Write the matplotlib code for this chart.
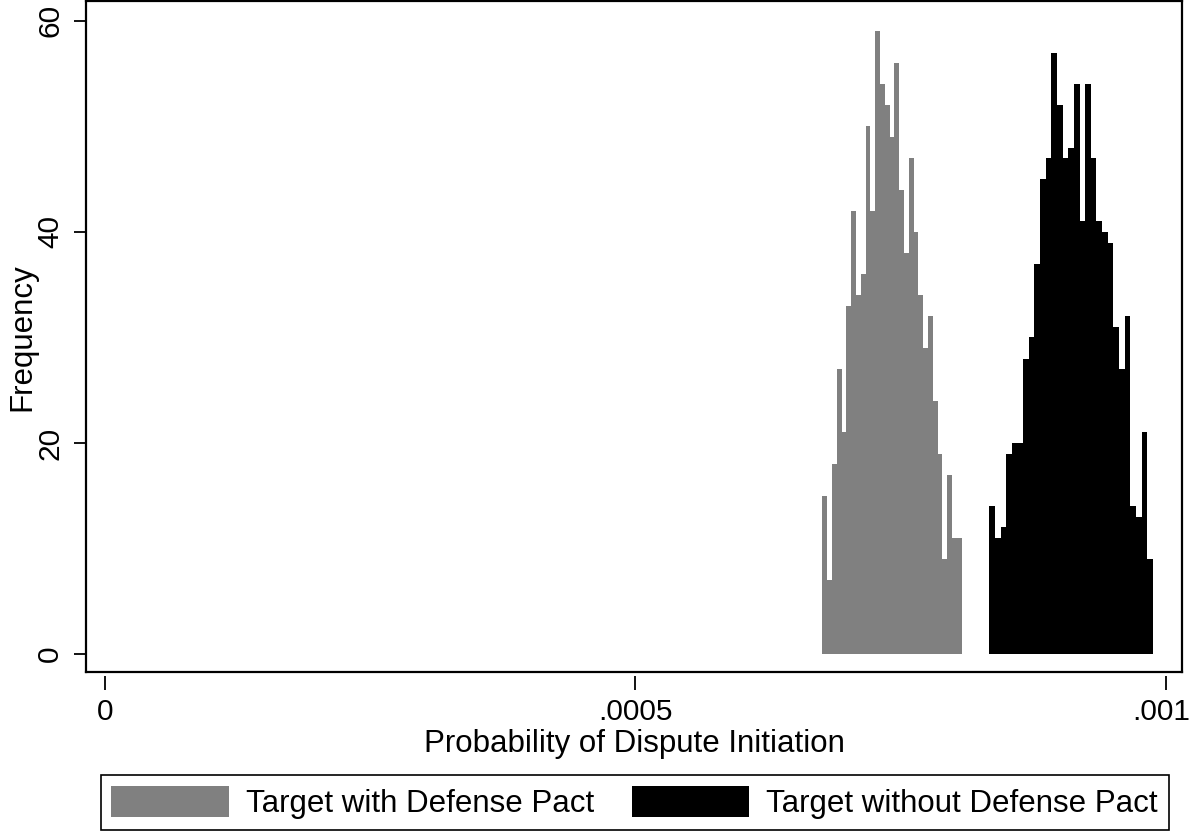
import numpy as np
import matplotlib
matplotlib.use("Agg")
import matplotlib.pyplot as plt
import matplotlib.transforms as mtransforms
from matplotlib.patches import Patch

plt.rcParams['font.family'] = ['Liberation Sans', 'DejaVu Sans']

# histogram counts (equal-width bins)
pact_counts = [15, 7, 18, 27, 21, 33, 42, 34, 36, 50, 42, 59, 54, 52, 49,
               56, 44, 38, 47, 40, 34, 29, 32, 24, 19, 9, 17, 11, 11]
pact_range = (0.0006761, 0.0008075)

nopact_counts = [14, 11, 12, 19, 20, 20, 28, 30, 37, 45, 47, 57, 52, 47, 48,
                 54, 41, 54, 47, 41, 40, 39, 31, 27, 32, 14, 13, 21, 9]
nopact_range = (0.0008335, 0.0009877)

labels = ["Target with Defense Pact", "Target without Defense Pact"]
colors = ["#808080", "#000000"]
xticks = [0, 0.0005, 0.001]
xticklabels = ["0", ".0005", ".001"]
yticks = [0, 20, 40, 60]

fs = 22.5
tfs = 21.5

fig = plt.figure(figsize=(11.91, 8.33), dpi=100)
ax = fig.add_axes([0.0722, 0.1933, 0.9202, 0.8050])

for counts, (lo, hi), col in [(pact_counts, pact_range, colors[0]),
                              (nopact_counts, nopact_range, colors[1])]:
    edges = np.linspace(lo, hi, len(counts) + 1)
    ax.bar(edges[:-1], counts, width=np.diff(edges), align='edge',
           color=col, linewidth=0)

ax.set_xlim(-1.79e-5, 1.0151e-3)
ax.set_ylim(-1.706, 61.85)

for s in ax.spines.values():
    s.set_linewidth(1.6)

ax.set_yticks(yticks)
ax.set_yticklabels([str(v) for v in yticks], rotation=90, va='center', fontsize=tfs)
ax.tick_params(axis='y', direction='out', length=8.6, width=1.3, pad=7)
ax.set_ylabel("Frequency", fontsize=fs, va='center')
ax.yaxis.set_label_coords(-0.0584, 0.5)

# x axis drawn slightly below the frame, Stata style
ax.set_xticks([])
sec = ax.secondary_xaxis(-0.006)
sec.spines['bottom'].set_visible(False)
sec.set_xticks(xticks)
sec.set_xticklabels(xticklabels, fontsize=tfs)
sec.tick_params(axis='x', direction='out', length=10, width=1.3, pad=6)
sec.set_xlabel("Probability of Dispute Initiation", fontsize=fs, labelpad=2)
# nudge the last label so it stays inside the canvas
last = sec.get_xticklabels()[-1]
last.set_transform(last.get_transform() +
                   mtransforms.ScaledTranslation(-5 / 100, 0, fig.dpi_scale_trans))

handles = [Patch(facecolor=c, edgecolor='none') for c in colors]
leg = fig.legend(handles, labels, loc='upper center', ncol=2, fontsize=fs,
                 bbox_to_anchor=((97 + 1172) / 2 / 1191, 1 - 775 / 833),
                 handlelength=3.75, handleheight=1.15, handletextpad=0.55,
                 columnspacing=1.2, borderpad=0.35, borderaxespad=0,
                 fancybox=False, framealpha=1, edgecolor='black')
leg.get_frame().set_linewidth(1.2)

fig.savefig("out.png", dpi=100)
